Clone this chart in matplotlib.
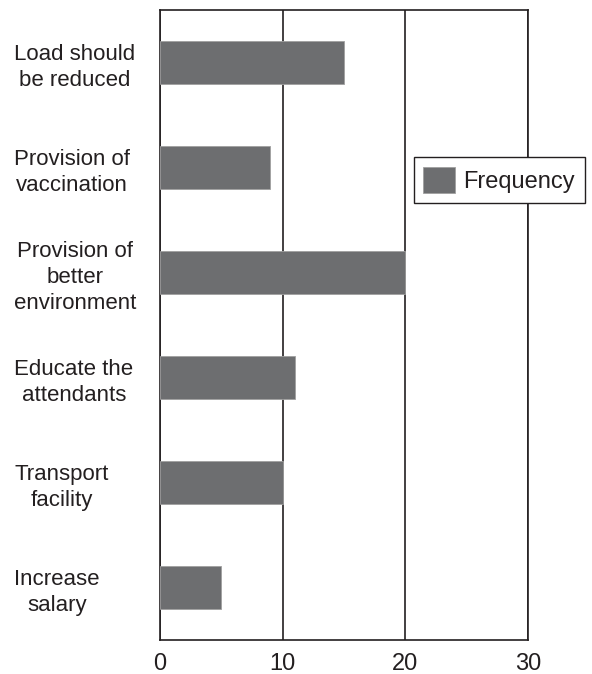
import matplotlib
matplotlib.use('Agg')
import matplotlib.pyplot as plt

plt.rcParams['font.family'] = ['Liberation Sans', 'DejaVu Sans']

labels = ['Load should\nbe reduced', 'Provision of\nvaccination', 'Provision of\nbetter\nenvironment',
          'Educate the\nattendants', 'Transport\nfacility', 'Increase\nsalary']
frequency = [15, 9, 20, 11, 10, 5]
xticks = [0, 10, 20, 30]

ink = '#231f20'
bar_col = '#6d6e70'

fig = plt.figure(figsize=(5.92, 6.74), dpi=100)
ax = fig.add_axes([160 / 592, 34 / 674, 368 / 592, 630 / 674])

pos = list(range(len(labels)))
ax.barh(pos, frequency, height=0.41, color=bar_col, edgecolor='#a0a0a0', linewidth=0.6,
        label='Frequency', zorder=3)

ax.set_xlim(0, 30)
ax.set_ylim(len(labels) - 0.5, -0.5)
ax.set_xticks(xticks)
ax.set_xticklabels([str(t) for t in xticks], fontsize=17, color=ink)
ax.set_yticks(pos)
ax.set_yticklabels(labels, fontsize=16, color=ink, ha='left', multialignment='center',
                   linespacing=1.3)
ax.tick_params(axis='y', length=0, pad=105)
ax.tick_params(axis='x', length=0, pad=9)

ax.xaxis.grid(True, color=ink, linewidth=1.2)
ax.set_axisbelow(True)
for s in ax.spines.values():
    s.set_color(ink)
    s.set_linewidth(1.2)

leg = ax.legend(loc='center left', bbox_to_anchor=(414 / 592, 1 - 180 / 674),
                bbox_transform=fig.transFigure, fontsize=17, fancybox=False,
                framealpha=1, edgecolor=ink, handlelength=1.35, handleheight=1.35,
                handletextpad=0.35, borderpad=0.4, borderaxespad=0)
leg.get_frame().set_linewidth(1.0)
for t in leg.get_texts():
    t.set_color(ink)

fig.savefig('out.png', dpi=100)
